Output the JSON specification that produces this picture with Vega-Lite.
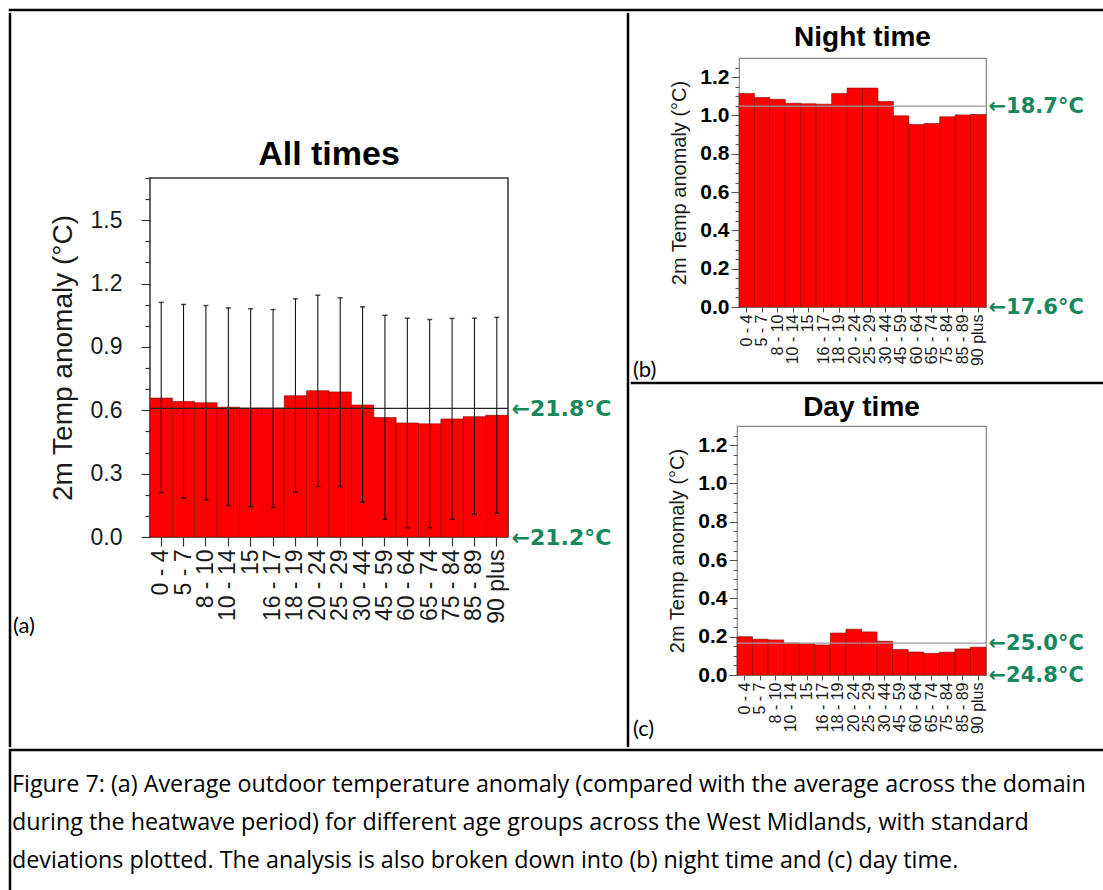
{
  "$schema": "https://vega.github.io/schema/vega-lite/v6.json",
  "padding": {"left": 8, "top": 8, "right": 0, "bottom": 0},
  "spacing": 0,
  "config": {
    "view": {"stroke": null},
    "font": "Liberation Sans",
    "axis": {"labelFont": "Liberation Sans", "titleFont": "Liberation Sans", "grid": false},
    "title": {"font": "Liberation Sans", "color": "black"}
  },
  "datasets": {
    "ages": [
      {"age": "0 - 4", "all": 0.658, "lo": 0.210, "hi": 1.111, "night": 1.115, "day": 0.200},
      {"age": "5 - 7", "all": 0.642, "lo": 0.184, "hi": 1.101, "night": 1.094, "day": 0.187},
      {"age": "8 - 10", "all": 0.636, "lo": 0.176, "hi": 1.096, "night": 1.084, "day": 0.183},
      {"age": "10 - 14", "all": 0.615, "lo": 0.149, "hi": 1.085, "night": 1.064, "day": 0.166},
      {"age": "15", "all": 0.611, "lo": 0.144, "hi": 1.081, "night": 1.061, "day": 0.162},
      {"age": "16 - 17", "all": 0.611, "lo": 0.139, "hi": 1.077, "night": 1.059, "day": 0.157},
      {"age": "18 - 19", "all": 0.669, "lo": 0.212, "hi": 1.128, "night": 1.115, "day": 0.219},
      {"age": "20 - 24", "all": 0.693, "lo": 0.239, "hi": 1.145, "night": 1.143, "day": 0.239},
      {"age": "25 - 29", "all": 0.687, "lo": 0.239, "hi": 1.133, "night": 1.143, "day": 0.225},
      {"age": "30 - 44", "all": 0.625, "lo": 0.165, "hi": 1.090, "night": 1.073, "day": 0.176},
      {"age": "45 - 59", "all": 0.566, "lo": 0.084, "hi": 1.050, "night": 0.998, "day": 0.133},
      {"age": "60 - 64", "all": 0.540, "lo": 0.043, "hi": 1.036, "night": 0.953, "day": 0.120},
      {"age": "65 - 74", "all": 0.536, "lo": 0.044, "hi": 1.030, "night": 0.958, "day": 0.113},
      {"age": "75 - 84", "all": 0.559, "lo": 0.084, "hi": 1.035, "night": 0.993, "day": 0.119},
      {"age": "85 - 89", "all": 0.570, "lo": 0.108, "hi": 1.036, "night": 1.003, "day": 0.136},
      {"age": "90 plus", "all": 0.576, "lo": 0.112, "hi": 1.040, "night": 1.005, "day": 0.145}
    ],
    "refs": [{"all": 0.609, "night": 1.049, "day": 0.166}],
    "caption": [
      {"line": 1, "text": "Figure 7: (a) Average outdoor temperature anomaly (compared with the average across the domain"},
      {"line": 2, "text": "during the heatwave period) for different age groups across the West Midlands, with standard"},
      {"line": 3, "text": "deviations plotted. The analysis is also broken down into (b) night time and (c) day time."}
    ]
  },
  "vconcat": [
    {
      "width": 1100, "height": 0.01,
      "view": {"stroke": "black", "strokeWidth": 2.5},
      "data": {"values": []}, "mark": "point", "encoding": {}
    },
    {
      "spacing": 14,
      "hconcat": [
        {
          "spacing": 11,
          "hconcat": [
            {
              "width": 0.01, "height": 732,
              "view": {"stroke": "black", "strokeWidth": 2.5},
              "title": {"text": "(a)", "orient": "bottom", "anchor": "start", "frame": "group", "offset": -130, "font": "Lato", "fontSize": 22, "fontWeight": "normal", "color": "black", "dx": 3},
              "data": {"values": []}, "mark": "point", "encoding": {}
            },
            {
              "spacing": 0,
              "vconcat": [
                {"width": 1, "height": 123, "data": {"values": []}, "mark": "point", "encoding": {}},
                {
                  "width": 358, "height": 359,
                  "title": {"text": "All times", "fontSize": 34, "fontWeight": "bold", "offset": -5},
                  "view": {"stroke": "#333333", "strokeWidth": 1.5},
                  "data": {"name": "ages"},
                  "resolve": {"axis": {"y": "independent"}},
                  "layer": [
                    {
                      "mark": {"type": "bar", "fill": "#ff0000", "stroke": "#8a0000", "strokeWidth": 0.6},
                      "encoding": {
                        "x": {"field": "age", "type": "ordinal", "sort": null,
                          "scale": {"paddingInner": 0, "paddingOuter": 0},
                          "axis": {"title": null, "labelAngle": 270, "labelAlign": "right", "labelBaseline": "middle", "labelFontSize": 23, "labelColor": "#1a1a1a", "labelOverlap": false, "tickSize": 9, "tickColor": "#333333", "tickWidth": 1.2, "domain": false, "labelPadding": 3}},
                        "y": {"field": "all", "type": "quantitative",
                          "scale": {"domain": [0, 1.7], "nice": false, "zero": true},
                          "axis": {
                            "orient": "left",
                            "values": [0, 0.1, 0.2, 0.3, 0.4, 0.5, 0.6, 0.7, 0.8, 0.9, 1, 1.1, 1.2, 1.3, 1.4, 1.5, 1.6, 1.7],
                            "labelExpr": "abs(datum.value/0.3 - round(datum.value/0.3)) < 0.001 ? format(datum.value, '.1f') : ''",
                            "tickSize": {"condition": {"test": "abs(datum.value/0.3 - round(datum.value/0.3)) < 0.001", "value": 9}, "value": 5},
                            "tickColor": "#333333", "tickWidth": 1.2,
                            "domain": false,
                            "labelFontSize": 23, "labelColor": "#1a1a1a", "labelPadding": 19, "labelOverlap": false,
                            "title": "2m Temp anomaly (°C)", "titleFontSize": 28, "titleFontWeight": "normal", "titleColor": "#1a1a1a", "titlePadding": 13
                          }}
                      }
                    },
                    {
                      "mark": {"type": "rule", "color": "black", "strokeWidth": 1},
                      "encoding": {
                        "x": {"field": "age", "type": "ordinal", "sort": null},
                        "y": {"field": "lo", "type": "quantitative", "scale": {"domain": [0, 1.7], "nice": false}, "axis": null},
                        "y2": {"field": "hi"}
                      }
                    },
                    {
                      "mark": {"type": "tick", "color": "black", "size": 5, "thickness": 1.5},
                      "encoding": {
                        "x": {"field": "age", "type": "ordinal", "sort": null},
                        "y": {"field": "hi", "type": "quantitative", "scale": {"domain": [0, 1.7], "nice": false}, "axis": null}
                      }
                    },
                    {
                      "mark": {"type": "tick", "color": "black", "size": 5, "thickness": 1.5},
                      "encoding": {
                        "x": {"field": "age", "type": "ordinal", "sort": null},
                        "y": {"field": "lo", "type": "quantitative", "scale": {"domain": [0, 1.7], "nice": false}, "axis": null}
                      }
                    },
                    {
                      "data": {"name": "refs"},
                      "mark": {"type": "rule", "color": "#222222", "strokeWidth": 1.3},
                      "encoding": {
                        "y": {"field": "all", "type": "quantitative", "scale": {"domain": [0, 1.7], "nice": false},
                          "axis": {"orient": "right", "values": [0, 0.609], "labelExpr": "datum.value > 0.3 ? '←21.8°C' : '←21.2°C'", "title": null, "ticks": false, "domain": false, "labelColor": "#17885c", "labelFont": "DejaVu Sans", "labelFontWeight": "bold", "labelFontSize": 22, "labelPadding": 3, "labelOverlap": false}}
                      }
                    }
                  ]
                }
              ]
            }
          ]
        },
        {
          "spacing": 0,
          "hconcat": [
            {
              "width": 0.01, "height": 732,
              "view": {"stroke": "black", "strokeWidth": 2.5},
              "data": {"values": []}, "mark": "point", "encoding": {}
            },
            {
              "spacing": 0,
              "vconcat": [
                {
                  "spacing": 12,
                  "hconcat": [
                    {
                      "width": 0.01, "height": 367,
                      "title": {"text": "(b)", "orient": "bottom", "anchor": "start", "frame": "group", "offset": -21, "font": "Lato", "fontSize": 22, "fontWeight": "normal", "color": "black", "dx": 1},
                      "data": {"values": []}, "mark": "point", "encoding": {}
                    },
                    {
                      "spacing": 0,
                      "vconcat": [
                        {"width": 1, "height": 8, "data": {"values": []}, "mark": "point", "encoding": {}},
                        {
                          "width": 247, "height": 249,
                          "title": {"text": "Night time", "fontSize": 28, "fontWeight": "bold", "offset": 5},
                          "view": {"stroke": "#888888", "strokeWidth": 1.2},
                          "data": {"name": "ages"},
                          "resolve": {"axis": {"y": "independent"}},
                          "layer": [
                            {
                              "mark": {"type": "bar", "fill": "#ff0000", "stroke": "#8a0000", "strokeWidth": 0.6},
                              "encoding": {
                                "x": {"field": "age", "type": "ordinal", "sort": null,
                                  "scale": {"paddingInner": 0, "paddingOuter": 0},
                                  "axis": {"title": null, "labelAngle": 270, "labelAlign": "right", "labelBaseline": "middle", "labelFontSize": 16, "labelColor": "#1a1a1a", "labelOverlap": false, "tickSize": 5, "tickColor": "#555555", "domain": false, "labelPadding": 2}},
                                "y": {"field": "night", "type": "quantitative",
                                  "scale": {"domain": [0, 1.3], "nice": false},
                                  "axis": {
                                    "orient": "left",
                                    "values": [0, 0.05, 0.1, 0.15, 0.2, 0.25, 0.3, 0.35, 0.4, 0.45, 0.5, 0.55, 0.6, 0.65, 0.7, 0.75, 0.8, 0.85, 0.9, 0.95, 1, 1.05, 1.1, 1.15, 1.2, 1.25],
                                    "labelExpr": "abs(datum.value*5 - round(datum.value*5)) < 0.001 ? format(datum.value, '.1f') : ''",
                                    "tickSize": {"condition": {"test": "abs(datum.value*5 - round(datum.value*5)) < 0.001", "value": 8}, "value": 4},
                                    "tickColor": "#555555", "domain": false,
                                    "labelFontSize": 21, "labelFontWeight": "bold", "labelColor": "black", "labelPadding": 2, "labelOverlap": false,
                                    "title": "2m Temp anomaly (°C)", "titleFontSize": 20, "titleFontWeight": "normal", "titleColor": "#1a1a1a", "titlePadding": 10
                                  }}
                              }
                            },
                            {
                              "data": {"name": "refs"},
                              "mark": {"type": "rule", "color": "#999999", "strokeWidth": 1.2},
                              "encoding": {
                                "y": {"field": "night", "type": "quantitative", "scale": {"domain": [0, 1.3], "nice": false},
                                  "axis": {"orient": "right", "values": [0, 1.049], "labelExpr": "datum.value > 0.5 ? '←18.7°C' : '←17.6°C'", "title": null, "ticks": false, "domain": false, "labelColor": "#17885c", "labelFont": "DejaVu Sans", "labelFontWeight": "bold", "labelFontSize": 21, "labelPadding": 2, "labelOverlap": false}}
                              }
                            }
                          ]
                        }
                      ]
                    }
                  ]
                },
                {
                  "width": 474, "height": 0.01,
                  "view": {"stroke": "black", "strokeWidth": 2.5},
                  "data": {"values": []}, "mark": "point", "encoding": {}
                },
                {
                  "spacing": 12,
                  "hconcat": [
                    {
                      "width": 0.01, "height": 354,
                      "title": {"text": "(c)", "orient": "bottom", "anchor": "start", "frame": "group", "offset": -20, "font": "Lato", "fontSize": 22, "fontWeight": "normal", "color": "black", "dx": 1},
                      "data": {"values": []}, "mark": "point", "encoding": {}
                    },
                    {
                      "spacing": 0,
                      "vconcat": [
                        {"width": 1, "height": 7, "data": {"values": []}, "mark": "point", "encoding": {}},
                        {
                          "width": 249, "height": 249,
                          "title": {"text": "Day time", "fontSize": 28, "fontWeight": "bold", "offset": 3},
                          "view": {"stroke": "#888888", "strokeWidth": 1.2},
                          "data": {"name": "ages"},
                          "resolve": {"axis": {"y": "independent"}},
                          "layer": [
                            {
                              "mark": {"type": "bar", "fill": "#ff0000", "stroke": "#8a0000", "strokeWidth": 0.6},
                              "encoding": {
                                "x": {"field": "age", "type": "ordinal", "sort": null,
                                  "scale": {"paddingInner": 0, "paddingOuter": 0},
                                  "axis": {"title": null, "labelAngle": 270, "labelAlign": "right", "labelBaseline": "middle", "labelFontSize": 16, "labelColor": "#1a1a1a", "labelOverlap": false, "tickSize": 5, "tickColor": "#555555", "domain": false, "labelPadding": 2}},
                                "y": {"field": "day", "type": "quantitative",
                                  "scale": {"domain": [0, 1.3], "nice": false},
                                  "axis": {
                                    "orient": "left",
                                    "values": [0, 0.05, 0.1, 0.15, 0.2, 0.25, 0.3, 0.35, 0.4, 0.45, 0.5, 0.55, 0.6, 0.65, 0.7, 0.75, 0.8, 0.85, 0.9, 0.95, 1, 1.05, 1.1, 1.15, 1.2, 1.25],
                                    "labelExpr": "abs(datum.value*5 - round(datum.value*5)) < 0.001 ? format(datum.value, '.1f') : ''",
                                    "tickSize": {"condition": {"test": "abs(datum.value*5 - round(datum.value*5)) < 0.001", "value": 8}, "value": 4},
                                    "tickColor": "#555555", "domain": false,
                                    "labelFontSize": 21, "labelFontWeight": "bold", "labelColor": "black", "labelPadding": 2, "labelOverlap": false,
                                    "title": "2m Temp anomaly (°C)", "titleFontSize": 20, "titleFontWeight": "normal", "titleColor": "#1a1a1a", "titlePadding": 10
                                  }}
                              }
                            },
                            {
                              "data": {"name": "refs"},
                              "mark": {"type": "rule", "color": "#999999", "strokeWidth": 1.2},
                              "encoding": {
                                "y": {"field": "day", "type": "quantitative", "scale": {"domain": [0, 1.3], "nice": false},
                                  "axis": {"orient": "right", "values": [0, 0.166], "labelExpr": "datum.value > 0.08 ? '←25.0°C' : '←24.8°C'", "title": null, "ticks": false, "domain": false, "labelColor": "#17885c", "labelFont": "DejaVu Sans", "labelFontWeight": "bold", "labelFontSize": 21, "labelPadding": 2, "labelOverlap": false}}
                              }
                            }
                          ]
                        }
                      ]
                    }
                  ]
                }
              ]
            }
          ]
        }
      ]
    },
    {
      "width": 1100, "height": 146,
      "view": {"stroke": "black", "strokeWidth": 2.5},
      "data": {"name": "caption"},
      "mark": {"type": "text", "align": "left", "baseline": "middle", "font": "Open Sans", "fontSize": 23.3, "color": "black", "limit": 1090, "ellipsis": "", "dx": 2},
      "encoding": {
        "x": {"datum": 0, "type": "quantitative", "scale": {"domain": [0, 1]}, "axis": null},
        "y": {"field": "line", "type": "ordinal", "scale": {"type": "point", "padding": 0.92, "align": 0.5}, "axis": null},
        "text": {"field": "text"}
      }
    }
  ]
}
